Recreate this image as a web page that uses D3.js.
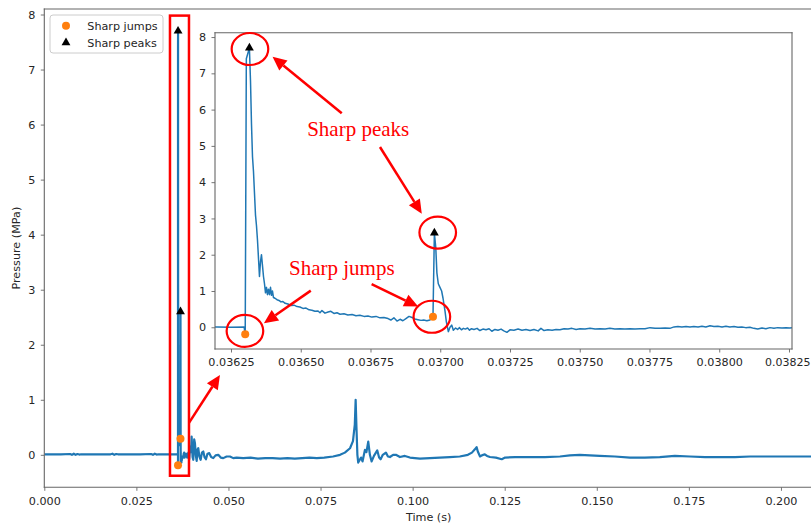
<!DOCTYPE html>
<html>
<head>
<meta charset="utf-8">
<script src="https://cdn.jsdelivr.net/npm/d3@7"></script>
<style>
  body { margin: 0; background: #fff; }
  svg { display: block; font-family: "DejaVu Sans", sans-serif; }
</style>
</head>
<body>
<svg id="chart" width="811" height="524"></svg>
<script>
// pressure trace [time (s), pressure (MPa)]
const preEvent = [
  [0.0000, 0.010], [0.0020, 0.010], [0.0045, 0.010], [0.0070, 0.015], [0.0075, 0.000],
  [0.0080, 0.020], [0.0085, 0.000], [0.0090, 0.015], [0.0095, 0.005], [0.0100, 0.010],
  [0.0150, 0.010], [0.0180, 0.010], [0.0185, 0.020], [0.0190, 0.000], [0.0195, 0.015],
  [0.0200, 0.010], [0.0260, 0.010], [0.0290, 0.015], [0.0295, 0.000], [0.0300, 0.020],
  [0.0305, 0.005], [0.0310, 0.010], [0.0360, 0.010]
];

const eventWindow = [
  [0.036150, 0.00], [0.036200, 0.01], [0.036250, 0.00], [0.036297, 0.01],
  [0.036301, -0.19], [0.036305, 7.40], [0.036316, 7.70],
  [0.0363199, 6.80], [0.0363235, 5.60], [0.0363271, 4.70], [0.0363306, 4.30],
  [0.0363342, 3.70], [0.0363378, 3.10], [0.0363414, 2.80], [0.0363450, 2.40],
  [0.0363486, 1.90], [0.0363521, 1.40], [0.0363557, 1.80], [0.0363593, 2.00],
  [0.0363629, 1.70], [0.0363665, 1.40], [0.0363701, 1.20], [0.0363737, 0.95],
  [0.0363772, 1.10], [0.0363808, 0.90], [0.0363844, 1.05], [0.0363880, 0.90],
  [0.0363916, 1.10], [0.0363952, 0.88], [0.0363987, 1.00], [0.0364023, 0.82],
  [0.0364077, 0.80], [0.0364149, 0.76], [0.036422, 0.74], [0.036429, 0.70],
  [0.036436, 0.71], [0.036444, 0.66], [0.036454, 0.64], [0.036465, 0.60],
  [0.036476, 0.61], [0.036487, 0.57], [0.036497, 0.56], [0.036508, 0.52],
  [0.036519, 0.53], [0.036530, 0.48], [0.036540, 0.47], [0.036551, 0.44],
  [0.036562, 0.45], [0.036569, 0.40], [0.036576, 0.46], [0.036587, 0.39],
  [0.036598, 0.42], [0.036608, 0.44], [0.036619, 0.38], [0.036630, 0.40],
  [0.036641, 0.36], [0.036655, 0.37], [0.036669, 0.34], [0.036684, 0.35],
  [0.036698, 0.32], [0.036712, 0.33], [0.036727, 0.30], [0.036741, 0.31],
  [0.036755, 0.28], [0.036770, 0.30], [0.036784, 0.26], [0.036798, 0.27],
  [0.036813, 0.24], [0.036823, 0.20], [0.036834, 0.26], [0.036845, 0.17],
  [0.036856, 0.22], [0.036866, 0.18], [0.036877, 0.24], [0.036888, 0.30],
  [0.036899, 0.27], [0.036909, 0.23], [0.036920, 0.21], [0.036931, 0.19],
  [0.036941, 0.20], [0.036952, 0.18], [0.036963, 0.20], [0.036974, 0.29],
  [0.036979, 2.60], [0.036984, 2.20], [0.036988, 1.50], [0.036993, 1.20],
  [0.036999, 1.10], [0.037005, 1.00], [0.037010, 0.80], [0.037017, 0.45],
  [0.037022, 0.15], [0.037029, -0.12], [0.037035, 0.00], [0.037041, 0.06],
  [0.037047, -0.08], [0.037055, -0.02], [0.037062, -0.06], [0.037069, -0.01],
  [0.037076, -0.07], [0.037083, -0.03], [0.037090, -0.05], [0.037098, -0.02],
  [0.037105, -0.08], [0.037112, -0.04], [0.037121, -0.06], [0.037132, -0.03],
  [0.037142, -0.09], [0.037153, -0.05], [0.037164, -0.07], [0.037175, -0.04],
  [0.037185, -0.11], [0.037196, -0.06], [0.037207, -0.08], [0.037218, -0.05],
  [0.037228, -0.10], [0.037239, -0.14], [0.037250, -0.07], [0.037264, -0.08],
  [0.037279, -0.05], [0.037293, -0.08], [0.037307, -0.06], [0.037322, -0.09],
  [0.037336, -0.06], [0.037351, -0.10], [0.037361, -0.03], [0.037372, -0.09],
  [0.037386, -0.07], [0.037401, -0.08], [0.037415, -0.06], [0.037429, -0.07],
  [0.037444, -0.04], [0.037458, -0.05], [0.037472, -0.03], [0.037487, -0.06],
  [0.037501, -0.04], [0.037519, -0.05], [0.037537, -0.03], [0.037555, -0.05],
  [0.037573, -0.04], [0.037591, -0.05], [0.037608, -0.03], [0.037626, -0.05],
  [0.037644, -0.04], [0.037662, -0.05], [0.037680, -0.04], [0.037698, -0.05],
  [0.037716, -0.04], [0.037734, -0.04], [0.037752, -0.01], [0.037770, -0.03],
  [0.037788, -0.03], [0.037806, -0.02], [0.037823, -0.03], [0.037838, 0.01],
  [0.037852, 0.02], [0.037866, 0.01], [0.037881, 0.02], [0.037895, 0.01],
  [0.037909, 0.02], [0.037924, 0.01], [0.037938, 0.03], [0.037952, 0.01],
  [0.037967, 0.04], [0.037981, 0.02], [0.037995, 0.03], [0.038010, 0.01],
  [0.038024, 0.03], [0.038038, 0.01], [0.038053, 0.02], [0.038067, 0.00],
  [0.038081, 0.01], [0.038095, -0.01], [0.038110, 0.00], [0.038124, -0.03],
  [0.038138, -0.05], [0.038153, -0.02], [0.038167, -0.04], [0.038182, -0.01],
  [0.038196, -0.03], [0.038210, -0.01], [0.038225, -0.02], [0.038239, -0.01],
  [0.038253, -0.02], [0.038268, -0.01]
];

const postEvent = [
  [0.03850, 0.02], [0.03880, -0.05], [0.03910, 0.04], [0.03935, -0.08], [0.03960, 0.15],
  [0.03985, 0.05], [0.04000, 0.33], [0.04025, -0.04], [0.04045, -0.09], [0.04070, 0.28],
  [0.04090, 0.21], [0.04115, -0.02], [0.04137, -0.11], [0.04160, 0.10], [0.04180, 0.12],
  [0.04210, -0.03], [0.04245, -0.09], [0.04280, 0.04], [0.04316, 0.06], [0.04350, -0.04],
  [0.04389, -0.08], [0.04430, 0.02], [0.04479, 0.03], [0.04530, -0.04], [0.04587, -0.06],
  [0.04650, -0.01], [0.04723, 0.00], [0.04790, -0.05], [0.04859, -0.06], [0.04950, -0.03],
  [0.05041, -0.03], [0.05130, -0.06], [0.05222, -0.05], [0.0540, -0.06], [0.0560, -0.05],
  [0.0580, -0.07], [0.0600, -0.06], [0.0620, -0.06], [0.0640, -0.07], [0.0660, -0.06],
  [0.0680, -0.07], [0.0700, -0.06], [0.0720, -0.05], [0.0740, -0.06], [0.0760, -0.05],
  [0.0784, -0.03], [0.0803, 0.00], [0.0816, 0.04], [0.0830, 0.12], [0.0838, 0.25],
  [0.0843, 0.55], [0.08453, 1.00], [0.08475, 0.50], [0.0850, 0.00], [0.08523, -0.14],
  [0.0860, -0.05], [0.0864, -0.12], [0.08705, 0.09], [0.08746, 0.05], [0.08795, 0.24],
  [0.0884, 0.00], [0.08887, -0.12], [0.0895, -0.02], [0.0904, 0.08], [0.0909, -0.05],
  [0.09131, -0.08], [0.0919, 0.00], [0.09275, 0.04], [0.0933, -0.03], [0.09384, -0.04],
  [0.0947, 0.00], [0.09546, 0.00], [0.09655, -0.04], [0.0979, -0.02], [0.09927, -0.05],
  [0.1006, -0.06], [0.1020, -0.07], [0.1047, -0.06], [0.1074, -0.05], [0.1101, -0.04],
  [0.1128, -0.03], [0.1150, 0.00], [0.1161, 0.04], [0.1169, 0.10], [0.11737, 0.14],
  [0.1177, 0.06], [0.1183, -0.03], [0.1188, -0.01], [0.1196, 0.01], [0.1202, -0.02],
  [0.1210, -0.04], [0.1226, -0.05], [0.1242, -0.08], [0.1251, -0.05], [0.1278, -0.04],
  [0.1318, -0.04], [0.1359, -0.04], [0.1400, -0.03], [0.1427, -0.01], [0.1454, 0.00],
  [0.1481, -0.01], [0.1508, -0.02], [0.1549, -0.03], [0.1590, -0.05], [0.1630, -0.05],
  [0.1671, -0.04], [0.1712, -0.02], [0.1753, -0.03], [0.1794, -0.04], [0.1834, -0.04],
  [0.1875, -0.04], [0.1916, -0.03], [0.1956, -0.03], [0.1997, -0.03], [0.2038, -0.03],
  [0.2081, -0.03], [0.2150, -0.03]
];

const jumps = [[0.036301, -0.19], [0.036974, 0.29]];
const peaks = [[0.036316, 7.70], [0.036979, 2.60]];

const mainXTicks = [0, 0.025, 0.05, 0.075, 0.1, 0.125, 0.15, 0.175, 0.2];
const mainYTicks = [0, 1, 2, 3, 4, 5, 6, 7, 8];
const insetXTicks = [0.03625, 0.0365, 0.03675, 0.037, 0.03725, 0.0375, 0.03775, 0.038, 0.03825];
const insetYTicks = [0, 1, 2, 3, 4, 5, 6, 7, 8];

const legendLabels = ['Sharp jumps', 'Sharp peaks'];

// annotations, in data units of the axes they sit on
const zoomBox = { t0: 0.03412, t1: 0.03928, p0: -0.38, p1: 7.98 };
const zoomArrow = [0.03928, 0.58, 0.04769, 1.45];
const calloutLabels = [
  { text: 'Sharp peaks', t: 0.036523, p: 5.26 },
  { text: 'Sharp jumps', t: 0.036458, p: 1.44 }
];
const calloutArrows = [
  [0.036647, 5.90, 0.036399, 7.46],
  [0.036784, 4.97, 0.036934, 3.13],
  [0.036536, 1.01, 0.036368, 0.11],
  [0.036754, 1.19, 0.036921, 0.57]
];
const calloutRings = [[0.036318, 7.67], [0.036991, 2.61], [0.036300, -0.10], [0.036970, 0.29]];

const series = preEvent.concat(eventWindow, postEvent);

const blue = '#1f77b4', orange = '#ff7f0e', spine = '#666', ink = '#262626';
const svg = d3.select('#chart');

const mainX = d3.scaleLinear().domain([0, 0.2087]).range([44.3, 813]);
const mainY = d3.scaleLinear().domain([-0.59, 8.1]).range([487.3, 9]);
const insetX = d3.scaleLinear().domain([0.0361927, 0.0382608]).range([215, 792]);
const insetY = d3.scaleLinear().domain([-0.599, 8.12]).range([349, 32.7]);

function clip(id, x, y) {
  svg.append('clipPath').attr('id', id).append('rect')
    .attr('x', x.range()[0]).attr('y', y.range()[1])
    .attr('width', x.range()[1] - x.range()[0])
    .attr('height', y.range()[0] - y.range()[1]);
}

function styleAxis(g) {
  g.select('.domain').remove();
  g.selectAll('.tick line').attr('stroke', spine).attr('stroke-width', 0.9);
  g.selectAll('.tick text').attr('fill', ink).style('font-size', '11.2px')
    .style('font-family', '"DejaVu Sans", sans-serif');
}

function frame(g, x, y, sides) {
  const [l, r] = x.range(), [b, t] = y.range();
  const lines = { left: [[l, t], [l, b]], right: [[r, t], [r, b]], top: [[l, t], [r, t]], bottom: [[l, b], [r, b]] };
  sides.forEach(s => {
    g.append('path').attr('d', d3.line()(lines[s]))
      .attr('stroke', spine).attr('stroke-width', 1.1).attr('fill', 'none')
      .attr('stroke-linecap', 'square');
  });
}

function markers(g, x, y) {
  g.selectAll('.jump').data(jumps).join('circle')
    .attr('cx', d => x(d[0])).attr('cy', d => y(d[1])).attr('r', 4).attr('fill', orange);
  g.selectAll('.peak').data(peaks).join('path')
    .attr('d', d3.symbol(d3.symbolTriangle, 34))
    .attr('transform', d => `translate(${x(d[0])},${y(d[1])})`)
    .attr('fill', 'black');
}

function arrow(g, x1, y1, x2, y2) {
  const a = Math.atan2(y2 - y1, x2 - x1), len = 14, w = 6.5;
  const bx = x2 - len * Math.cos(a), by = y2 - len * Math.sin(a);
  g.append('path').attr('d', d3.line()([[x1, y1], [bx, by]]))
    .attr('stroke', 'red').attr('stroke-width', 2.5).attr('fill', 'none');
  g.append('path')
    .attr('d', d3.line()([[x2, y2], [bx + w * Math.sin(a), by - w * Math.cos(a)], [bx - w * Math.sin(a), by + w * Math.cos(a)]]) + 'Z')
    .attr('fill', 'red');
}

// ---- main axes
clip('clip-main', mainX, mainY);
clip('clip-inset', insetX, insetY);

const main = svg.append('g');

main.append('g').attr('transform', `translate(0,${mainY.range()[0]})`)
  .call(d3.axisBottom(mainX).tickValues(mainXTicks).tickFormat(d3.format('.3f')).tickSizeOuter(0).tickSize(3.5).tickPadding(6))
  .call(styleAxis);
main.append('g').attr('transform', `translate(${mainX.range()[0]},0)`)
  .call(d3.axisLeft(mainY).tickValues(mainYTicks).tickFormat(d3.format('d')).tickSizeOuter(0).tickSize(3.5).tickPadding(5.5))
  .call(styleAxis);

main.append('path').datum(series)
  .attr('clip-path', 'url(#clip-main)')
  .attr('d', d3.line().x(d => mainX(d[0])).y(d => mainY(d[1])))
  .attr('fill', 'none').attr('stroke', blue).attr('stroke-width', 2.2)
  .attr('stroke-linejoin', 'round');

markers(main.append('g'), mainX, mainY);
frame(main, mainX, mainY, ['left', 'bottom', 'top']);

main.append('text').text('Time (s)')
  .attr('x', (mainX.range()[0] + mainX.range()[1]) / 2).attr('y', 520.5)
  .attr('text-anchor', 'middle').attr('fill', ink).style('font-size', '11.2px');
main.append('text').text('Pressure (MPa)')
  .attr('transform', `translate(20,${(mainY.range()[0] + mainY.range()[1]) / 2}) rotate(-90)`)
  .attr('text-anchor', 'middle').attr('fill', ink).style('font-size', '11.2px');

// legend
const legend = main.append('g').attr('transform', 'translate(50,15)');
legend.append('rect').attr('width', 113).attr('height', 38).attr('rx', 3)
  .attr('fill', 'white').attr('fill-opacity', 0.8).attr('stroke', '#ccc').attr('stroke-width', 1);
legend.append('circle').attr('cx', 16).attr('cy', 10.7).attr('r', 4).attr('fill', orange);
legend.append('path').attr('d', d3.symbol(d3.symbolTriangle, 34))
  .attr('transform', 'translate(16,27.7)').attr('fill', 'black');
legendLabels.forEach((s, i) => {
  legend.append('text').text(s).attr('x', 37.3).attr('y', 14.7 + 17 * i)
    .attr('fill', ink).style('font-size', '11.2px');
});

// red box round the spike and arrow to the inset
main.append('rect')
  .attr('x', mainX(zoomBox.t0)).attr('y', mainY(zoomBox.p1))
  .attr('width', mainX(zoomBox.t1) - mainX(zoomBox.t0))
  .attr('height', mainY(zoomBox.p0) - mainY(zoomBox.p1))
  .attr('fill', 'none').attr('stroke', 'red').attr('stroke-width', 2.5);
arrow(main, mainX(zoomArrow[0]), mainY(zoomArrow[1]), mainX(zoomArrow[2]), mainY(zoomArrow[3]));

// ---- inset axes
const inset = svg.append('g');
inset.append('rect')
  .attr('x', insetX.range()[0]).attr('y', insetY.range()[1])
  .attr('width', insetX.range()[1] - insetX.range()[0])
  .attr('height', insetY.range()[0] - insetY.range()[1])
  .attr('fill', 'white');

const insetXAxis = inset.append('g').attr('transform', `translate(0,${insetY.range()[0]})`)
  .call(d3.axisBottom(insetX).tickValues(insetXTicks).tickFormat(d3.format('.5f')).tickSizeOuter(0).tickSize(3.5).tickPadding(6))
  .call(styleAxis);
// last label sits right at the page edge, nudge it in a little
insetXAxis.selectAll('.tick text').filter((d, i, n) => i === n.length - 1)
  .attr('text-anchor', 'end').attr('dx', '21px').style('font-size', '11px');
inset.append('g').attr('transform', `translate(${insetX.range()[0]},0)`)
  .call(d3.axisLeft(insetY).tickValues(insetYTicks).tickFormat(d3.format('d')).tickSizeOuter(0).tickSize(3.5).tickPadding(5.5))
  .call(styleAxis);

inset.append('path').datum(series)
  .attr('clip-path', 'url(#clip-inset)')
  .attr('d', d3.line().x(d => insetX(d[0])).y(d => insetY(d[1])))
  .attr('fill', 'none').attr('stroke', blue).attr('stroke-width', 1.5)
  .attr('stroke-linejoin', 'round');

markers(inset.append('g'), insetX, insetY);
frame(inset, insetX, insetY, ['left', 'right', 'top', 'bottom']);

// callouts
const notes = inset.append('g');
calloutRings.forEach(d => {
  notes.append('ellipse').attr('cx', insetX(d[0])).attr('cy', insetY(d[1]))
    .attr('rx', 18.3).attr('ry', 16)
    .attr('fill', 'none').attr('stroke', 'red').attr('stroke-width', 2.2);
});
calloutArrows.forEach(d => arrow(notes, insetX(d[0]), insetY(d[1]), insetX(d[2]), insetY(d[3])));
calloutLabels.forEach(d => {
  notes.append('text').text(d.text)
    .attr('x', insetX(d.t)).attr('y', insetY(d.p))
    .attr('fill', 'red')
    .style('font-family', '"Liberation Serif", "Times New Roman", serif')
    .style('font-size', '21px');
});
</script>
</body>
</html>
